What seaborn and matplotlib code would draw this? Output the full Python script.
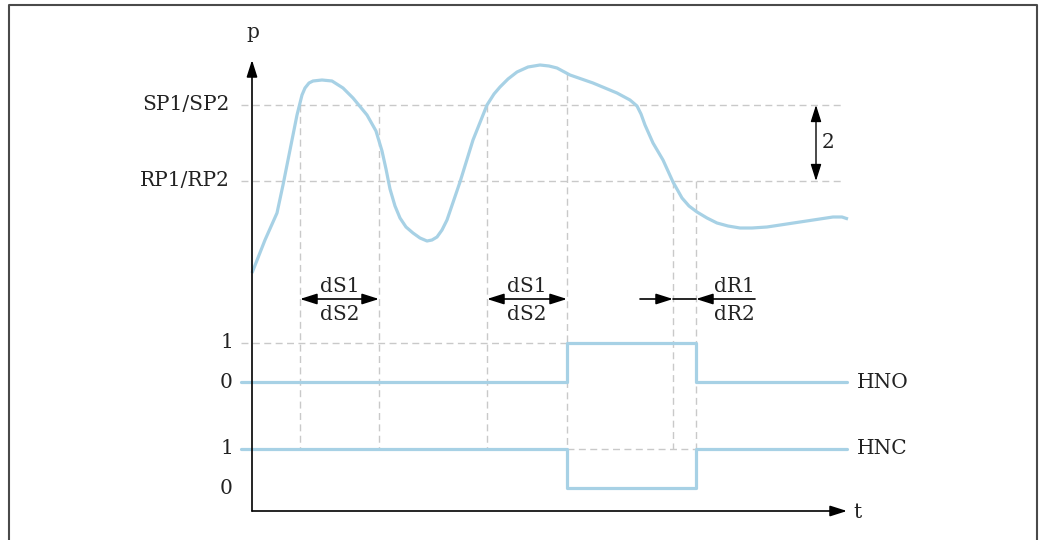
import numpy as np
import pandas as pd
import seaborn as sns
import matplotlib.pyplot as plt

# pressure curve p(t), arbitrary units, origin at the axis cross
t_curve = [0, 13, 25, 31, 38, 45, 50, 53, 57, 61, 70, 80, 91, 101, 115, 124, 130,
           134, 138, 143, 148, 154, 161, 168, 175, 180, 185, 190, 195, 208, 221,
           235, 242, 248, 256, 265, 276, 288, 297, 305, 318, 341, 365, 378, 385,
           389, 393, 401, 411, 421, 430, 437, 445, 455, 465, 476, 488, 500, 515,
           548, 581, 590, 596]
p_curve = [238, 271, 298, 326, 361, 396, 416, 423, 428, 430, 431, 430, 423, 413,
           396, 380, 360, 342, 322, 305, 293, 284, 278, 273, 270, 271, 274, 281,
           291, 329, 371, 406, 417, 424, 432, 439, 444, 446, 445, 443, 436, 428,
           418, 411, 405, 397, 386, 368, 351, 329, 313, 305, 299, 293, 288, 285,
           283, 283, 284, 289, 294, 294, 292]

SP = 406
RP = 330
level_labels = ["SP1/SP2", "RP1/RP2"]

# switching instants
t_sp_cross1, t_delay_end1 = 48, 127
t_sp_cross2, t_switch_on = 235, 315
t_rp_cross, t_switch_off = 421, 444
t_start, t_end = -11, 595

# output states
state_t = [t_start, t_switch_on, t_switch_off, t_end]
hno_state = [0, 1, 0, 0]
hnc_state = [1, 0, 1, 1]
hno_base, hnc_base, step = 129, 23, 39

blue = "#a7d1e5"
grid = "#c9c9c9"
ink = "#222222"

sns.set_theme(style="white")
plt.rcParams["font.family"] = ["DejaVu Serif", "DejaVu Sans"]

fig = plt.figure(figsize=(10.44, 5.4), dpi=100)
ax = fig.add_axes([0, 0, 1, 1])
ax.set_xlim(-252, 792)
ax.set_ylim(-29, 511)
ax.axis("off")

dash = dict(color=grid, lw=1.0, ls=(0, (5, 3.2)), zorder=1)

# guide lines
for lv in (SP, RP):
    ax.plot([t_start, 591], [lv, lv], **dash)
ax.plot([t_start, t_switch_on], [hno_base + step] * 2, **dash)
ax.plot([t_switch_on, t_switch_off], [hnc_base + step] * 2, **dash)
for tx, top in [(t_sp_cross1, SP), (t_delay_end1, SP), (t_sp_cross2, SP),
                (t_switch_on, 438), (t_rp_cross, RP), (t_switch_off, RP)]:
    ax.plot([tx, tx], [top, hnc_base + step], **dash)

# pressure curve
curve = pd.DataFrame({"t": t_curve, "p": p_curve})
sns.lineplot(data=curve, x="t", y="p", sort=False, estimator=None, color=blue,
             lw=2.3, ax=ax, zorder=3, solid_joinstyle="round", solid_capstyle="butt")

# switch outputs
sig = pd.DataFrame({"t": state_t,
                    "HNO": [hno_base + s * step for s in hno_state],
                    "HNC": [hnc_base + s * step for s in hnc_state]})
for col in ("HNO", "HNC"):
    sns.lineplot(data=sig, x="t", y=col, sort=False, estimator=None, color=blue,
                 lw=2.3, ax=ax, zorder=3, drawstyle="steps-post")
    lv = sig[col].iloc[-1]
    ax.text(605, lv, col, ha="left", va="center", fontsize=14.5, color=ink)

# axes with arrows
def arrow(x0, y0, x1, y1, style="-|>", lw=1.2):
    ax.annotate("", xy=(x1, y1), xytext=(x0, y0), zorder=4,
                arrowprops=dict(arrowstyle=style + ",head_length=0.85,head_width=0.27",
                                lw=lw, color="black", shrinkA=0, shrinkB=0))

arrow(0, 0, 0, 451)
arrow(0, 0, 595, 0)
ax.text(1, 479, "p", ha="center", va="center", fontsize=14.5, color=ink)
ax.text(601, -1, "t", ha="left", va="center", fontsize=14.5, color=ink)

for lab, lv in zip(level_labels, (SP, RP)):
    ax.text(-22, lv, lab, ha="right", va="center", fontsize=14.5, color=ink)
for lab, lv in [("1", hno_base + step), ("0", hno_base),
                ("1", hnc_base + step), ("0", hnc_base)]:
    ax.text(-19, lv, lab, ha="right", va="center", fontsize=14.5, color=ink)

# hysteresis
arrow(564, RP, 564, SP, style="<|-|>", lw=1.0)
ax.text(570, 369, "2", ha="left", va="center", fontsize=14.5, color=ink)

# delay annotations
y_d = 212
for a, b in [(t_sp_cross1, t_delay_end1), (t_sp_cross2, t_switch_on)]:
    arrow(a, y_d, b, y_d, style="<|-|>")
    ax.text((a + b) / 2, 225, "dS1", ha="center", va="center", fontsize=14.5, color=ink)
    ax.text((a + b) / 2, 196, "dS2", ha="center", va="center", fontsize=14.5, color=ink)

arrow(388, y_d, t_rp_cross, y_d)
ax.plot([t_rp_cross, t_switch_off], [y_d, y_d], color="black", lw=1.2, zorder=4)
arrow(503, y_d, t_switch_off, y_d)
ax.text(482, 225, "dR1", ha="center", va="center", fontsize=14.5, color=ink)
ax.text(482, 196, "dR2", ha="center", va="center", fontsize=14.5, color=ink)

# frame
ax.plot([-242.5, -242.5, 785, 785], [-40, 506.5, 506.5, -40],
        color="#4a4a4a", lw=1.5, clip_on=False, zorder=0)

fig.savefig("out.png", dpi=100)
